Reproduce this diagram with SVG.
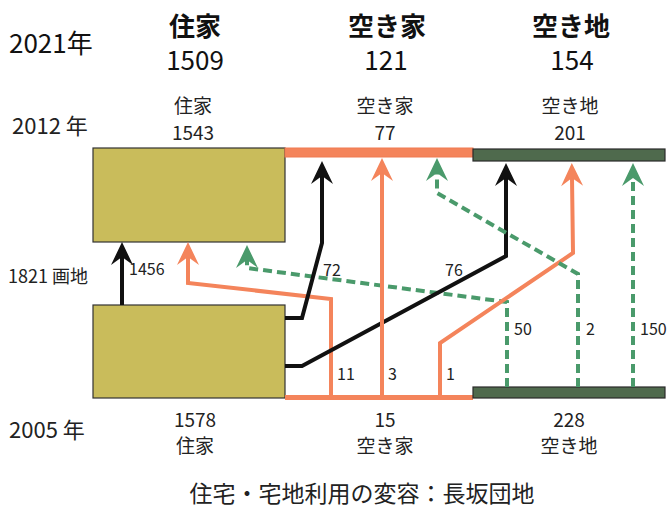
<svg xmlns="http://www.w3.org/2000/svg" width="668" height="512" viewBox="0 0 668 512">
<style>
text{font-family:"Noto Sans CJK JP","Noto Sans",sans-serif;fill:#222}
.hd{font-size:26px;font-weight:bold;text-anchor:middle;fill:#111}
.hn{font-size:26px;text-anchor:middle;fill:#111}
.yr{font-size:22px}
.lb{font-size:19px;text-anchor:middle}
.nm{font-size:16px}
.house{fill:#C9BC5B;stroke:#333;stroke-width:1.2}
.land{fill:#4F6A4D;stroke:#2a2a2a;stroke-width:1.2}
.blk{fill:none;stroke:#111;stroke-width:4;marker-end:url(#aB)}
.org{fill:none;stroke:#F4845B;stroke-width:4;marker-end:url(#aO)}
.grn{fill:none;stroke:#4A9A6B;stroke-width:4;stroke-dasharray:9 5;marker-end:url(#aG)}
</style>
<defs>
<marker id="aB" markerUnits="userSpaceOnUse" markerWidth="24" markerHeight="22" refX="8" refY="11" orient="auto" overflow="visible"><path d="M23,11 L0,0 L8,11 L0,22 Z" fill="#111"/></marker>
<marker id="aO" markerUnits="userSpaceOnUse" markerWidth="24" markerHeight="22" refX="8" refY="11" orient="auto" overflow="visible"><path d="M23,11 L0,0 L8,11 L0,22 Z" fill="#F4845B"/></marker>
<marker id="aG" markerUnits="userSpaceOnUse" markerWidth="24" markerHeight="22" refX="8" refY="11" orient="auto" overflow="visible"><path d="M23,11 L0,0 L8,11 L0,22 Z" fill="#4A9A6B"/></marker>
</defs>
<rect width="668" height="512" fill="#fff"/>

<g id="header2021">
<text x="9" y="53" class="hn" style="text-anchor:start">2021年</text>
<text x="195" y="36" class="hd">住家</text>
<text x="195" y="70" class="hn">1509</text>
<text x="387" y="36" class="hd">空き家</text>
<text x="386" y="70" class="hn">121</text>
<text x="571" y="36" class="hd">空き地</text>
<text x="572" y="70" class="hn">154</text>
</g>

<g id="labels2012">
<text x="12" y="134" class="yr">2012 年</text>
<text x="193" y="113" class="lb">住家</text>
<text x="193" y="140" class="lb">1543</text>
<text x="385" y="113" class="lb">空き家</text>
<text x="385" y="140" class="lb">77</text>
<text x="570" y="113" class="lb">空き地</text>
<text x="570" y="140" class="lb">201</text>
</g>

<g id="labels2005">
<text x="9" y="438" class="yr">2005 年</text>
<text x="195" y="427" class="lb">1578</text>
<text x="195" y="453" class="lb">住家</text>
<text x="385" y="427" class="lb">15</text>
<text x="385" y="453" class="lb">空き家</text>
<text x="569" y="427" class="lb">228</text>
<text x="569" y="453" class="lb">空き地</text>
</g>

<g id="house2012"><rect class="house" x="93" y="148" width="192" height="94"/></g>
<g id="vacant2012"><rect x="285" y="148" width="188" height="9" fill="#F4845B" stroke="#EF7A52" stroke-width="1"/></g>
<g id="land2012"><rect class="land" x="473" y="149" width="192" height="12"/></g>
<g id="house2005"><rect class="house" x="93" y="305" width="192" height="93"/></g>
<g id="vacant2005"><rect x="285" y="395" width="188" height="5" fill="#F4845B"/></g>
<g id="land2005"><rect class="land" x="473" y="387" width="192" height="11"/></g>

<g id="connectors">
<path class="blk" d="M122,305 V257"/>
<path class="org" d="M331,397 V299 L188,283 V257"/>
<path class="grn" d="M507,387 V302 L247,268 V260"/>
<path class="blk" d="M285,318 H302 L322,243 V176"/>
<path class="blk" d="M285,366 H302 L506,256 V178"/>
<path class="org" d="M382,397 V173"/>
<path class="org" d="M440,397 V343 L573,253 L572,178"/>
<path class="grn" d="M578,387 V274 L437,193 V173"/>
<path class="grn" d="M633,387 V178"/>
</g>

<g id="edgeLabels">
<text x="8" y="283" style="font-size:18px">1821 画地</text>
<text x="129" y="275" class="nm">1456</text>
<text x="323" y="276" class="nm">72</text>
<text x="445" y="276" class="nm">76</text>
<text x="337" y="380" class="nm">11</text>
<text x="388" y="380" class="nm">3</text>
<text x="446" y="380" class="nm">1</text>
<text x="514" y="335" class="nm">50</text>
<text x="586" y="335" class="nm">2</text>
<text x="640" y="335" class="nm">150</text>
</g>

<text x="362" y="502" style="font-size:23px;text-anchor:middle">住宅・宅地利用の変容：長坂団地</text>
</svg>
